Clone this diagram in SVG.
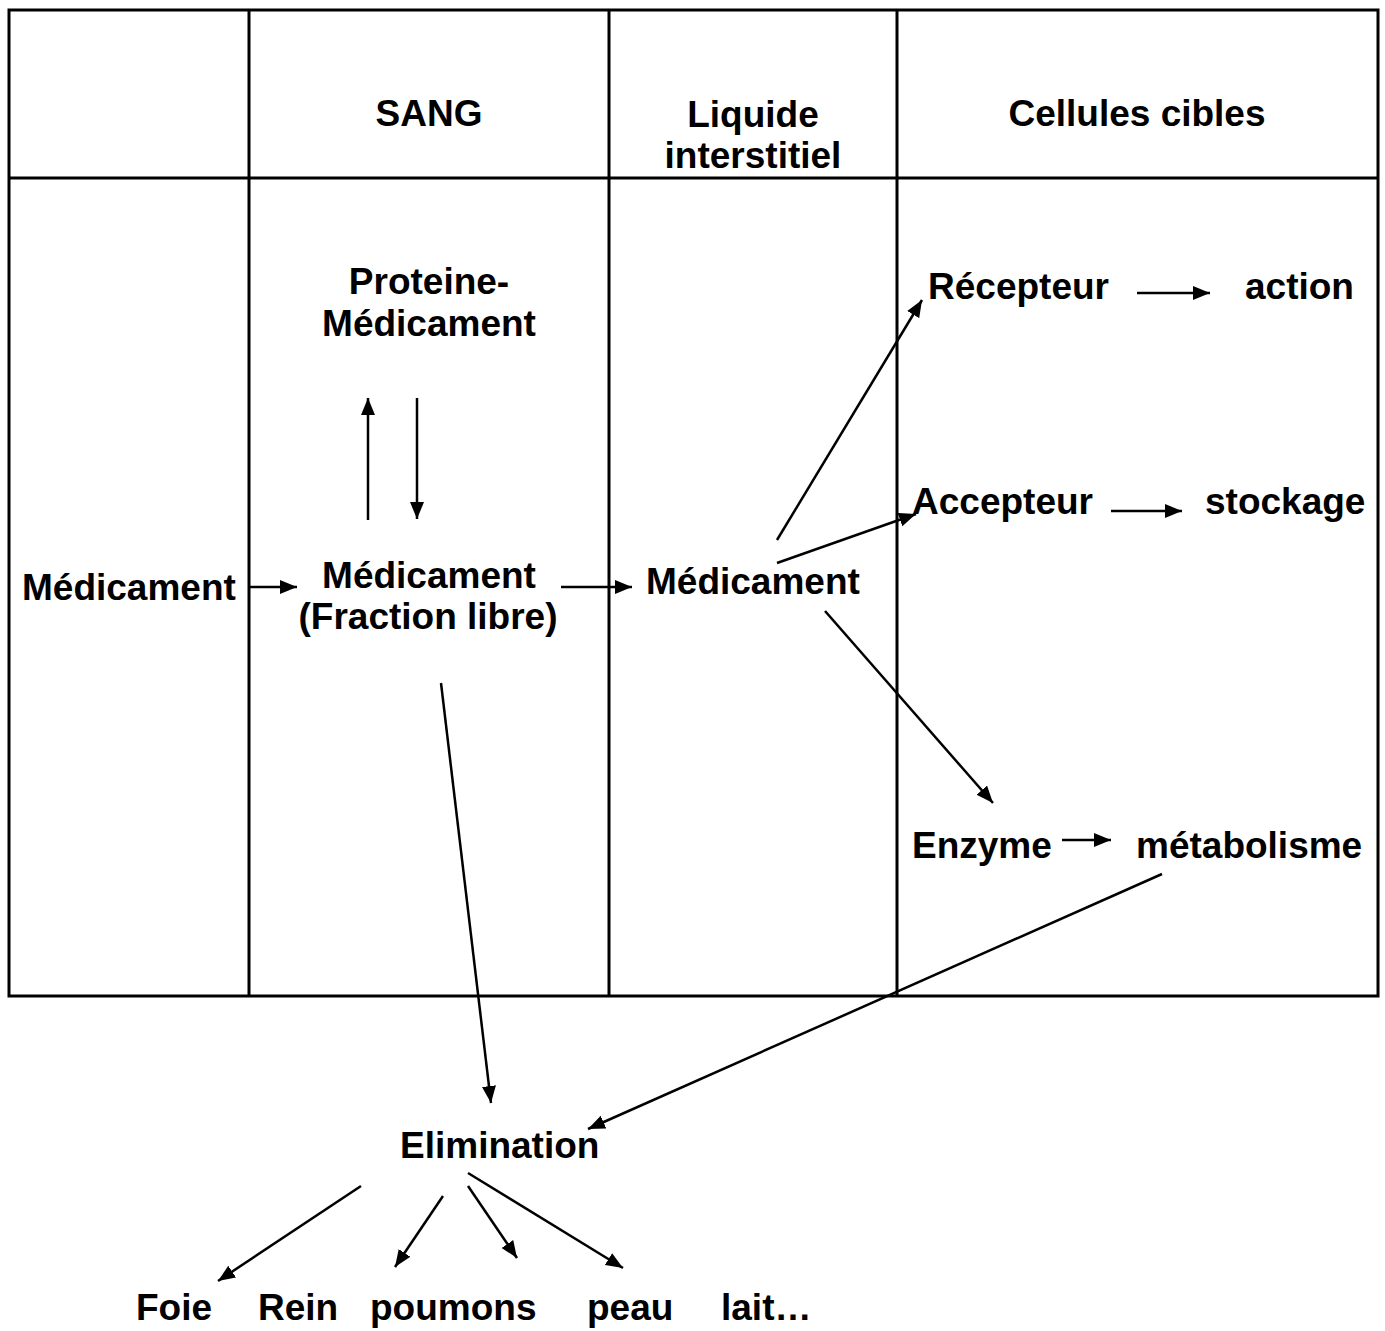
<svg xmlns="http://www.w3.org/2000/svg" width="1385" height="1331" viewBox="0 0 1385 1331">
<style>
.t{font-family:"Liberation Sans",Arial,sans-serif;font-weight:bold;font-size:37px;fill:#000}
.c{text-anchor:middle}
.grid{stroke:#000;stroke-width:3;fill:none}
.a{stroke:#000;stroke-width:2.5;fill:none;marker-end:url(#ah)}
</style>
<defs>
<marker id="ah" markerUnits="userSpaceOnUse" markerWidth="18" markerHeight="15" refX="17" refY="7" orient="auto">
<path d="M0,0 L17,7 L0,14 z" fill="#000"/>
</marker>
</defs>
<rect width="1385" height="1331" fill="#fff"/>
<g id="table">
<rect class="grid" x="9" y="10" width="1369" height="986"/>
<line class="grid" x1="9" y1="178" x2="1378" y2="178"/>
<line class="grid" x1="249" y1="10" x2="249" y2="996"/>
<line class="grid" x1="609" y1="10" x2="609" y2="996"/>
<line class="grid" x1="897" y1="10" x2="897" y2="996"/>
</g>
<g id="headers">
<text class="t c" x="429" y="126">SANG</text>
<text class="t c" x="753" y="127">Liquide</text>
<text class="t c" x="753" y="168">interstitiel</text>
<text class="t c" x="1137" y="126">Cellules cibles</text>
</g>
<g id="n-medicament-in"><text class="t" x="22" y="600">Médicament</text></g>
<g id="n-proteine"><text class="t c" x="429" y="294">Proteine-</text><text class="t c" x="429" y="336">Médicament</text></g>
<g id="n-libre"><text class="t c" x="429" y="588">Médicament</text><text class="t c" x="428" y="629">(Fraction libre)</text></g>
<g id="n-medicament-li"><text class="t" x="646" y="594">Médicament</text></g>
<g id="n-recepteur"><text class="t" x="928" y="299">Récepteur</text></g>
<g id="n-action"><text class="t" x="1245" y="299">action</text></g>
<g id="n-accepteur"><text class="t" x="912" y="514">Accepteur</text></g>
<g id="n-stockage"><text class="t" x="1205" y="514">stockage</text></g>
<g id="n-enzyme"><text class="t" x="912" y="858">Enzyme</text></g>
<g id="n-metabolisme"><text class="t" x="1136" y="858">métabolisme</text></g>
<g id="n-elimination"><text class="t" x="400" y="1158">Elimination</text></g>
<g id="n-foie"><text class="t" x="136" y="1320">Foie</text></g>
<g id="n-rein"><text class="t" x="258" y="1320">Rein</text></g>
<g id="n-poumons"><text class="t" x="370" y="1320">poumons</text></g>
<g id="n-peau"><text class="t" x="587" y="1320">peau</text></g>
<g id="n-lait"><text class="t" x="721" y="1320">lait…</text></g>
<g id="connectors">
<line class="a" x1="250" y1="587" x2="297" y2="587"/>
<line class="a" x1="368" y1="520" x2="368" y2="398"/>
<line class="a" x1="417" y1="398" x2="417" y2="519"/>
<line class="a" x1="561" y1="587" x2="632" y2="587"/>
<line class="a" x1="777" y1="540" x2="922" y2="300"/>
<line class="a" x1="777" y1="563" x2="916" y2="514"/>
<line class="a" x1="825" y1="611" x2="993" y2="803"/>
<line class="a" x1="1137" y1="293" x2="1210" y2="293"/>
<line class="a" x1="1111" y1="511" x2="1182" y2="511"/>
<line class="a" x1="1062" y1="840" x2="1111" y2="840"/>
<line class="a" x1="441" y1="683" x2="491" y2="1103"/>
<line class="a" x1="1162" y1="874" x2="588" y2="1129"/>
<line class="a" x1="361" y1="1186" x2="218" y2="1281"/>
<line class="a" x1="443" y1="1196" x2="395" y2="1267"/>
<line class="a" x1="468" y1="1186" x2="517" y2="1258"/>
<line class="a" x1="468" y1="1173" x2="623" y2="1268"/>
</g>
</svg>
